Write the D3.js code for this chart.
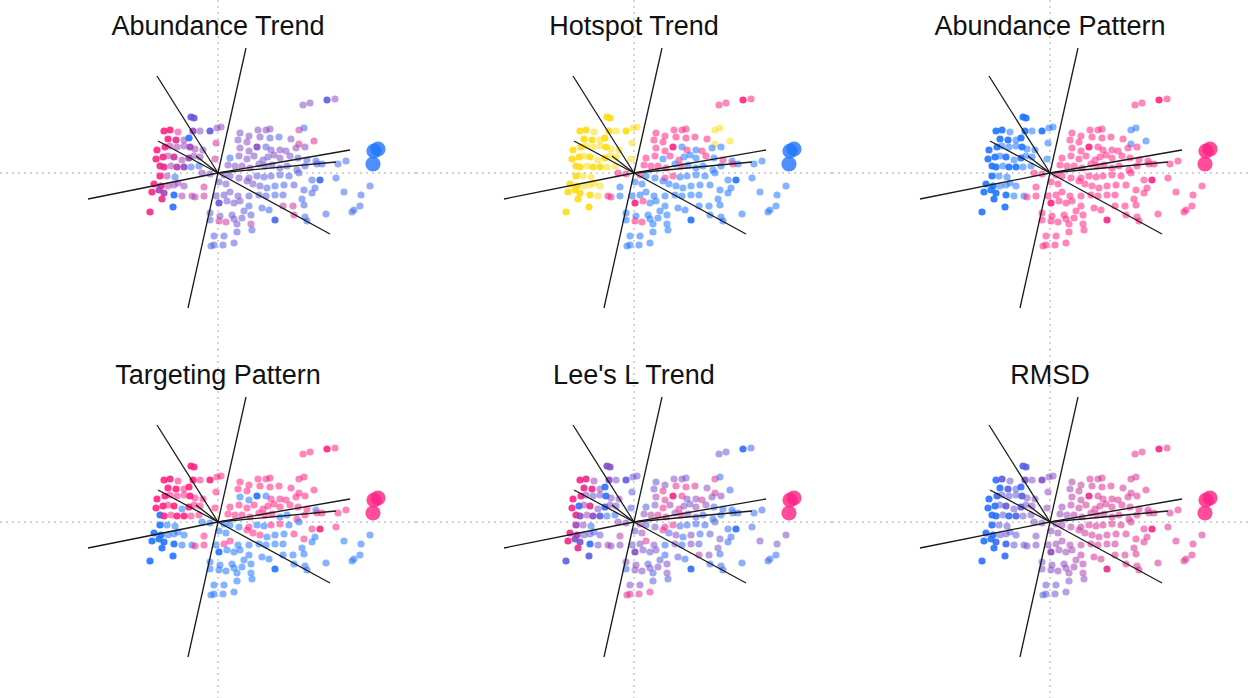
<!DOCTYPE html>
<html>
<head>
<meta charset="utf-8">
<script src="https://cdn.jsdelivr.net/npm/d3@7"></script>
<style>
  html, body { margin: 0; padding: 0; background: #fff; }
  svg { display: block; }
</style>
</head>
<body>
<svg id="chart" width="1248" height="698"></svg>
<script>
// PCA scores of each site (PC1, PC2)
const pcX = [
  8.5, 9.2, 10.9, 11.7, -2.7, -2.4, -5.4, -4.8, -4.0, -2.5,
  -1.8, -0.8, -0.1, 0.3, -5.0, -4.2, -3.4, -2.9, -6.1, -5.3,
  -4.8, -4.1, -3.4, -2.8, -2.3, -1.5, -6.2, -5.5, -5.0, -4.4,
  -3.6, -2.9, -2.4, -1.8, -0.3, -5.8, -5.4, -4.7, -4.1, -3.4,
  -2.7, -1.9, -5.8, -5.1, -4.3, -6.4, -5.7, -5.0, -4.4, -4.0,
  -3.4, -6.6, -5.9, -5.4, -4.4, -3.6, -2.6, -5.6, -4.5, -6.8,
  -0.2, 2.2, 4.0, 4.8, 5.2, 8.1, 8.6, 2.0, 3.1, 4.2,
  5.2, 6.1, 7.3, 9.6, 8.1, 2.9, 2.2, 3.1, 3.9, 4.8,
  5.3, 6.2, 6.8, 7.8, 8.7, 1.2, 2.1, 2.9, 3.6, 4.5,
  5.0, 5.6, 6.2, 7.2, 8.0, 8.9, 9.8, 10.4, 12.8, 1.0,
  1.7, 2.4, 3.2, 4.1, 4.7, 5.4, 6.2, 6.9, 7.9, 8.7,
  9.9, 12.0, -1.6, -0.8, 0.6, 1.2, 2.1, 3.1, 3.9, 4.6,
  5.3, 6.2, 7.1, 8.1, 9.4, 10.2, 11.8, -1.4, 0.1, 0.8,
  2.9, 3.5, 4.2, 4.9, 5.7, 6.6, 7.6, 8.6, 9.7, 15.2,
  -2.3, -1.4, -0.2, 0.6, 1.2, 2.0, 3.1, 4.1, 4.8, 5.7,
  6.5, 8.4, 9.4, 12.6, 14.3, 0.1, 0.9, 1.6, 2.2, 3.1,
  4.4, 5.1, 6.5, 7.5, 8.6, 14.2, 13.6, 13.4, -0.8, 0.2,
  1.4, 2.6, 3.3, 7.6, 8.7, 10.8, -0.8, 0.1, 0.8, 1.6,
  2.4, 3.3, 5.7, 8.9, 1.9, -0.4, 0.6, 1.9, 3.4, -0.7,
  -0.4, 0.5, 1.6
];
const pcY = [
  6.8, 7.0, 7.3, 7.4, 5.6, 5.5, 4.2, 4.3, 4.1, 4.2,
  4.2, 4.2, 4.5, 4.6, 3.4, 3.3, 3.3, 3.5, 2.3, 2.6,
  2.7, 2.6, 2.7, 2.6, 2.4, 2.3, 1.4, 1.6, 1.7, 1.6,
  1.3, 1.5, 1.7, 1.6, 1.4, 0.7, 0.6, 0.7, 0.6, 0.6,
  0.6, 0.7, -0.3, -0.3, -0.4, -1.1, -1.3, -1.3, -1.2, -1.0,
  -1.3, -1.9, -1.7, -2.0, -2.2, -2.3, -2.3, -2.6, -3.4, -3.9,
  3.0, 4.0, 4.3, 4.3, 4.4, 4.3, 4.5, 3.3, 3.7, 3.6,
  3.5, 3.6, 3.4, 3.2, 2.9, 3.1, 2.5, 2.2, 2.6, 2.6,
  2.3, 2.3, 2.2, 2.5, 2.6, 1.5, 1.7, 1.4, 1.7, 1.3,
  1.6, 1.8, 1.5, 1.7, 1.5, 1.3, 1.2, 0.9, 1.2, 0.8,
  0.7, 0.7, 0.5, 0.9, 0.7, 0.8, 0.5, 0.7, 0.3, 0.7,
  0.9, 0.9, 0.0, -0.1, -0.2, -0.3, -0.5, -0.5, -0.3, -0.4,
  -0.3, -0.2, -0.3, 0.0, -0.7, -0.7, -0.5, -1.4, -0.9, -1.1,
  -0.8, -1.1, -1.3, -1.5, -1.3, -1.2, -1.2, -1.7, -1.5, -1.3,
  -2.4, -2.3, -2.3, -2.2, -1.9, -2.3, -2.3, -2.2, -2.3, -2.2,
  -2.2, -2.6, -2.0, -1.9, -2.2, -3.0, -2.8, -3.0, -2.8, -3.3,
  -3.5, -3.7, -3.3, -3.3, -3.2, -3.3, -3.7, -3.9, -4.0, -4.3,
  -4.2, -3.8, -4.2, -4.2, -4.4, -4.1, -4.7, -4.8, -4.9, -4.6,
  -4.5, -5.1, -4.7, -4.8, -5.1, -6.3, -6.3, -5.9, -5.7, -7.3,
  -7.2, -7.2, -7.0
];
// 1 = strong signal, 0 = weak
const signal = [
  0, 0, 1, 0, 1, 1, 1, 1, 0, 1,
  0, 1, 0, 0, 1, 1, 0, 1, 1, 1,
  0, 0, 0, 1, 0, 0, 1, 1, 0, 1,
  0, 1, 0, 0, 0, 1, 1, 0, 1, 1,
  0, 0, 1, 0, 0, 1, 1, 0, 0, 0,
  0, 1, 1, 1, 1, 0, 0, 1, 1, 1,
  0, 0, 0, 0, 0, 0, 0, 0, 0, 0,
  0, 0, 0, 0, 0, 0, 0, 0, 1, 0,
  0, 0, 0, 0, 0, 0, 0, 0, 0, 0,
  0, 0, 0, 0, 0, 0, 0, 0, 0, 0,
  0, 0, 0, 0, 0, 0, 0, 0, 0, 0,
  0, 0, 0, 0, 0, 0, 0, 0, 0, 0,
  0, 0, 0, 0, 0, 1, 0, 0, 0, 0,
  0, 0, 0, 0, 0, 0, 0, 0, 0, 0,
  0, 0, 0, 0, 0, 0, 0, 0, 0, 0,
  0, 0, 0, 0, 0, 1, 0, 0, 0, 0,
  0, 0, 0, 0, 0, 0, 0, 0, 0, 0,
  0, 0, 0, 0, 0, 0, 0, 0, 0, 0,
  0, 0, 1, 0, 0, 0, 0, 0, 0, 0,
  0, 0, 0
];

// Per-site metrics (0 = decreasing / low, 1 = increasing / high)
const abundanceTrend = [
  .45, .45, .25, .5, .3, .3, 1, 1, .9, .55,
  .45, .3, .45, .5, 1, .9, .55, .05, 1, 1,
  .7, .6, .5, .55, .6, .5, 1, .95, .7, .8,
  .55, .6, .5, .55, .85, 1, .9, .6, .7, .5,
  .15, .15, 1, .6, .05, 1, .9, .6, .55, .6,
  .5, 1, .6, .65, .05, .6, .8, .9, .05, 1,
  .85, .45, .45, .5, .45, .85, .1, .4, .45, .45,
  .2, .2, .4, .85, .85, .5, .5, .45, .45, .2,
  .4, .45, .4, .5, .45, .1, .45, .4, .45, .4,
  .35, .45, .45, .4, .3, .2, .15, .15, .15, .45,
  .4, .5, .45, .4, .4, .35, .3, .3, .25, .15,
  .2, .15, .5, .45, .5, .35, .4, .4, .3, .25,
  .3, .2, .2, .25, .15, .1, .1, .85, .3, .4,
  .45, .4, .35, .2, .15, .2, .25, .15, .15, .15,
  .6, .8, .3, .35, .4, .35, .3, .3, .2, .15,
  .2, .15, .2, .15, .15, .35, .4, .35, .4, .2,
  .2, .15, .75, .75, .2, .15, .15, .15, .3, .4,
  .35, .3, .25, .8, .15, .15, .25, .8, .7, .4,
  .35, .75, .15, .15, .4, .2, .25, .3, .2, .2,
  .2, .25, .3
];
// 1 = hotspot, -1 = coldspot, 0 = no trend
const hotspotTrend = [
  1, 1, 1, 1, 0, 0, 0, 0, 0, 0,
  0, 0, 0, 0, 0, 0, 0, 0, 0, 0,
  0, 0, 0, 0, 0, 0, 0, 0, 0, 0,
  0, 0, 0, 0, 0, 0, 0, 0, 0, 0,
  0, 0, 0, 0, 0, 0, 0, 0, 0, 0,
  0, 0, 0, 0, 0, 0, 1, 0, 0, 0,
  0, 1, 1, 1, 1, 0, 0, 1, 1, 1,
  1, 1, 1, 0, 0, 1, 1, 1, 1, -1,
  1, -1, 1, -1, -1, 1, 1, -1, 1, 1,
  -1, -1, -1, 1, -1, 1, -1, -1, -1, 1,
  1, 1, 1, -1, 1, -1, -1, -1, -1, -1,
  1, -1, 1, 1, 1, -1, -1, 1, 1, -1,
  -1, -1, -1, -1, -1, -1, -1, -1, -1, -1,
  -1, -1, -1, -1, -1, -1, -1, -1, -1, -1,
  1, -1, -1, -1, -1, -1, -1, -1, -1, -1,
  -1, -1, -1, -1, -1, 1, 1, -1, -1, -1,
  -1, -1, -1, -1, -1, -1, -1, -1, -1, -1,
  -1, -1, -1, -1, -1, -1, -1, 1, 1, -1,
  -1, -1, -1, -1, -1, -1, -1, -1, -1, -1,
  -1, -1, -1
];
const abundancePattern = [
  1, 1, 1, 1, 0, 0, 0, 0, 0, 0,
  0, 0, 0, 0, 0, 0, 0, 0, 0, 0,
  0, 0, 0, 0, 0, 0, 0, 0, 0, 0,
  0, 0, 0, 0, 0, 0, 0, 0, 0, 0,
  0, 0, 0, 0, 0, 0, 0, 0, 0, 0,
  0, 0, 0, 0, 0, 0, 0, 0, 0, 0,
  0, 1, 1, 1, 1, 0, 0, 1, 1, 1,
  1, 1, 1, 0, 0, 1, 1, 1, 1, 1,
  1, 1, 1, 1, 1, 1, 1, 1, 1, 1,
  1, 1, 1, 1, 1, 1, 1, 1, 1, 1,
  1, 1, 1, 1, 1, 1, 1, 1, 1, 1,
  1, 1, 1, 1, 1, 1, 1, 1, 1, 1,
  1, 1, 1, 1, 1, 1, 1, 1, 1, 1,
  1, 1, 1, 1, 1, 1, 1, 1, 1, 1,
  1, 1, 1, 1, 1, 1, 1, 1, 1, 1,
  1, 1, 1, 1, 1, 1, 1, 1, 1, 1,
  1, 1, 1, 1, 1, 1, 1, 1, 1, 1,
  1, 1, 1, 1, 1, 1, 1, 1, 1, 1,
  1, 1, 1, 1, 1, 1, 1, 1, 1, 1,
  1, 1, 1
];
const targetingPattern = [
  1, 1, 1, 1, 1, 1, 1, 1, 1, 1,
  1, 1, 1, 1, 1, 1, 1, 1, 1, 1,
  1, 1, 1, 1, 1, 1, 1, 1, 1, 1,
  0, 1, 1, 1, 1, 0, 1, 1, 1, 1,
  1, 1, 0, 0, 0, 0, 0, 0, 0, 0,
  0, 0, 0, 0, 0, 0, 0, 0, 0, 0,
  1, 1, 1, 1, 1, 1, 1, 1, 1, 1,
  1, 1, 1, 1, 1, 1, 0, 0, 0, 0,
  1, 1, 1, 1, 1, 1, 1, 1, 1, 1,
  1, 1, 1, 1, 1, 1, 0, 1, 1, 1,
  1, 1, 1, 1, 1, 1, 0, 0, 1, 1,
  1, 1, 0, 0, 0, 0, 0, 1, 0, 0,
  1, 1, 0, 0, 1, 1, 1, 1, 0, 0,
  1, 1, 1, 0, 0, 0, 1, 1, 0, 0,
  1, 1, 0, 1, 1, 0, 0, 0, 0, 0,
  0, 0, 0, 0, 0, 0, 0, 0, 0, 0,
  0, 0, 0, 0, 0, 0, 0, 0, 0, 0,
  0, 0, 0, 0, 0, 0, 0, 0, 0, 0,
  0, 0, 0, 0, 0, 0, 0, 0, 0, 0,
  0, 0, 0
];
const leesLTrend = [
  .3, .4, .08, .1, .45, .45, .95, .92, .6, .5,
  .4, .3, .25, .4, .92, .9, .5, .05, .95, .95,
  .5, .25, .45, .05, .4, .5, .92, .08, .6, .88,
  .4, .08, .45, .4, .25, .92, .5, .6, .5, .3,
  .08, .1, .6, .5, .08, .95, .6, .4, .3, .08,
  .4, .92, .45, .4, .05, .45, .7, .92, .25, .25,
  .25, .3, .4, .45, .4, .88, .1, .4, .45, .9,
  .92, .85, .5, .1, .88, .9, .6, .9, .95, .9,
  .45, .5, .85, .4, .45, .2, .4, .9, .6, .88,
  .45, .4, .6, .45, .25, .1, .08, .1, .1, .5,
  .7, .88, .9, .5, .9, .45, .25, .2, .1, .08,
  .1, .08, .5, .45, .7, .25, .4, .9, .88, .2,
  .1, .1, .1, .25, .1, .05, .1, .7, .25, .6,
  .9, .25, .45, .1, .45, .08, .25, .4, .1, .45,
  .5, .45, .3, .45, .88, .4, .1, .5, .1, .45,
  .2, .4, .1, .4, .4, .45, .4, .3, .45, .1,
  .25, .1, .7, .45, .1, .1, .1, .1, .45, .5,
  .25, .25, .45, .1, .1, .1, .08, .5, .45, .4,
  .45, .45, .1, .1, .2, .4, .45, .3, .25, .88,
  .88, .88, .88
];
const rmsd = [
  .9, .9, .95, .85, .25, .25, .05, .3, .35, .4,
  .45, .45, .45, .5, .05, .25, .3, .1, .05, .1,
  .3, .3, .35, .2, .4, .45, .05, .05, .3, .3,
  .35, .3, .4, .45, .5, .05, .05, .3, .1, .2,
  .35, .4, .05, .35, .3, .05, .05, .3, .35, .3,
  .35, .05, .05, .1, .1, .3, .35, .05, .1, .05,
  .5, .6, .8, .8, .8, .85, .85, .6, .75, .85,
  .85, .85, .8, .85, .8, .75, .7, .75, .9, .85,
  .85, .85, .85, .85, .85, .55, .7, .75, .8, .8,
  .85, .85, .85, .85, .85, .85, .85, .85, .85, .55,
  .6, .7, .75, .85, .85, .85, .85, .85, .85, .85,
  .85, .85, .45, .45, .55, .6, .65, .75, .8, .8,
  .85, .85, .85, .85, .85, .95, .85, .45, .5, .55,
  .7, .75, .8, .8, .8, .85, .85, .85, .85, .85,
  .35, .45, .5, .55, .6, .65, .75, .8, .8, .8,
  .85, .85, .85, .85, .85, .5, .5, .55, .6, .7,
  .8, .8, .85, .85, .85, .85, .85, .85, .4, .45,
  .5, .6, .65, .85, .85, .85, .4, .45, .5, .5,
  .55, .65, .9, .85, .55, .3, .35, .4, .5, .25,
  .3, .35, .4
];

// Pooled reference sites plotted as large markers
const pooledX = [15.6, 16.0, 15.5];
const pooledY = [2.2, 2.4, 0.9];
const pooledAbundanceTrend = [0, 0, 0];
const pooledHotspotTrend = [-1, -1, -1];
const pooledAbundancePattern = [1, 1, 1];
const pooledTargetingPattern = [1, 1, 1];
const pooledLeesLTrend = [1, 1, 1];
const pooledRmsd = [1, 1, 1];

// Variable loadings (PC1, PC2)
const loadX = [2.8, -3.0, -6.1, 11.2, -13.0, 13.2, -6.0, 11.8, -2.2];
const loadY = [12.5, -13.5, 9.7, -6.1, -2.6, 2.3, 3.2, 1.1, 1.7];

const panelTitles = ["Abundance Trend", "Hotspot Trend", "Abundance Pattern",
                     "Targeting Pattern", "Lee's L Trend", "RMSD"];

const BLUE = "#1f74ff", PINK = "#ff2182", YELLOW = "#ffdb14";
const gradient = d3.scaleLinear().domain([0, 1]).range([BLUE, PINK]).interpolate(d3.interpolateRgb);
const hotspotColor = d3.scaleOrdinal().domain([1, -1, 0]).range([PINK, BLUE, YELLOW]);

const panels = [
  { values: abundanceTrend, pooled: pooledAbundanceTrend, color: gradient },
  { values: hotspotTrend, pooled: pooledHotspotTrend, color: hotspotColor },
  { values: abundancePattern, pooled: pooledAbundancePattern, color: gradient },
  { values: targetingPattern, pooled: pooledTargetingPattern, color: gradient },
  { values: leesLTrend, pooled: pooledLeesLTrend, color: gradient },
  { values: rmsd, pooled: pooledRmsd, color: gradient }
];

const W = 416, H = 349;
const x = d3.scaleLinear().domain([-21.8, 19.8]).range([0, W]);
const y = d3.scaleLinear().domain([-17.6, 17.3]).range([H, 0]);
const opacity = d3.scaleLinear().domain([0, 1]).range([0.55, 0.9]);

const svg = d3.select("#chart");

panels.forEach((p, k) => {
  const col = k % 3, row = Math.floor(k / 3);
  const g = svg.append("g").attr("transform", `translate(${col * W},${row * H})`);

  // zero reference lines
  g.append("line")
    .attr("x1", x(0)).attr("x2", x(0)).attr("y1", 0).attr("y2", H)
    .attr("stroke", "#c4c4c4").attr("stroke-width", 1.4).attr("stroke-dasharray", "2,4");
  g.append("line")
    .attr("x1", 0).attr("x2", W).attr("y1", y(0)).attr("y2", y(0))
    .attr("stroke", "#c4c4c4").attr("stroke-width", 1.4).attr("stroke-dasharray", "2,4");

  // site scores
  g.append("g").selectAll("circle")
    .data(d3.range(pcX.length))
    .join("circle")
    .attr("cx", i => x(pcX[i]))
    .attr("cy", i => y(pcY[i]))
    .attr("r", 3.6)
    .attr("fill", i => p.color(p.values[i]))
    .attr("fill-opacity", i => opacity(signal[i]));

  // pooled sites
  g.append("g").selectAll("circle")
    .data(d3.range(pooledX.length))
    .join("circle")
    .attr("cx", i => x(pooledX[i]))
    .attr("cy", i => y(pooledY[i]))
    .attr("r", 7.6)
    .attr("fill", i => p.color(p.pooled[i]))
    .attr("fill-opacity", 0.8);

  // loading vectors
  g.append("g").selectAll("line")
    .data(d3.range(loadX.length))
    .join("line")
    .attr("x1", x(0)).attr("y1", y(0))
    .attr("x2", i => x(loadX[i])).attr("y2", i => y(loadY[i]))
    .attr("stroke", "#1a1a1a").attr("stroke-width", 1.3);

  g.append("text")
    .attr("x", x(0)).attr("y", 34.5)
    .attr("text-anchor", "middle")
    .attr("font-family", "'Liberation Sans', Arial, sans-serif")
    .attr("font-size", 27)
    .attr("fill", "#111")
    .text(panelTitles[k]);
});
</script>
</body>
</html>
